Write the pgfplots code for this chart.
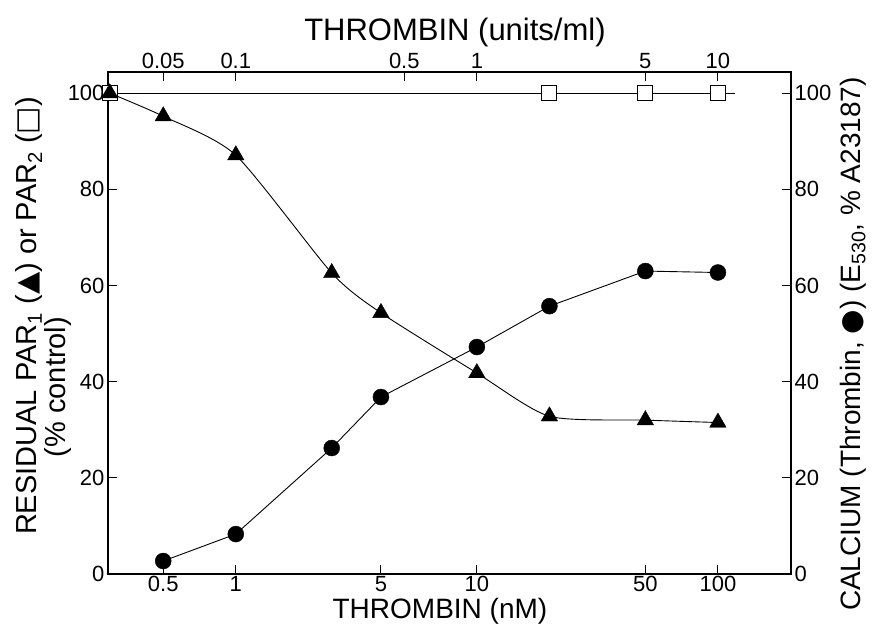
\documentclass[border=0pt]{standalone}
\usepackage{pgfplots}
\pgfplotsset{compat=1.18}
\usepackage{fontspec}
\setmainfont{Liberation Sans}
\newfontfamily\symfont{DejaVu Sans}

\begin{document}
\begin{tikzpicture}
\path[use as bounding box] (-108pt,-60pt) rectangle (766pt,574pt);
\begin{axis}[
  at={(0pt,0pt)}, anchor=south west,
  scale only axis, width=683pt, height=502pt,
  xmode=log, xmin=0.295, xmax=201, ymin=0, ymax=104.4,
  clip=false,
  xtick={0.5,1,4,10,50,100}, xticklabels={0.5,1,5,10,50,100},
  minor xtick={},
  ytick={0,20,40,60,80,100}, yticklabels={0,20,40,60,80,100},
  xtick pos=bottom, ytick pos=left,
  tick align=inside, major tick length=9pt,
  every tick/.style={black, line width=1pt},
  axis line style={line width=1.1pt},
  ticklabel style={font=\fontsize{22}{24}\selectfont},
  xticklabel style={yshift=1pt},
  /pgf/number format/assume math mode=true,
  xlabel={THROMBIN (nM)},
  xlabel style={at={(axis description cs:0.486,-0.0735)}, anchor=center, font=\fontsize{28}{32}\selectfont},
  ylabel={RESIDUAL PAR\textsubscript{1} ({\symfont ▲}) or PAR\textsubscript{2} ({\symfont □})},
  ylabel style={at={(axis description cs:-0.1157,0.514)}, anchor=center, font=\fontsize{29}{32}\selectfont},
]
\addplot[black, line width=0.9pt, smooth, tension=0.4, mark=none] coordinates {
(0.3,100) (0.5,95.2) (1,87.1) (2.5,62.6) (4,54.3) (10,41.8) (20,32.8) (50,32) (100,31.5)};
\addplot[black, line width=0.9pt, mark=none] coordinates {
(0.5,2.7) (1,8.3) (2.5,26.2) (4,36.8) (10,47.2) (20,55.7) (50,63) (100,62.7)};
\addplot[black, line width=0.9pt, mark=none] coordinates {(0.3,100) (118,100)};
\addplot[only marks, mark=square*, mark size=7.5pt, draw=black, fill=white, mark options={line width=0.9pt}] coordinates {
(0.3,100) (20,100) (50,100) (100,100)};
\addplot[only marks, mark=triangle*, mark size=9.5pt, black] coordinates {
(0.3,100) (0.5,95.2) (1,87.1) (2.5,62.6) (4,54.3) (10,41.8) (20,32.8) (50,32) (100,31.5)};
\addplot[only marks, mark=*, mark size=8pt, black] coordinates {
(0.5,2.7) (1,8.3) (2.5,26.2) (4,36.8) (10,47.2) (20,55.7) (50,63) (100,62.7)};
\node[rotate=90, anchor=center, font=\fontsize{29}{32}\selectfont] at (axis description cs:-0.0732,0.3725) {(\% control)};
\end{axis}
\begin{axis}[
  at={(0pt,0pt)}, anchor=south west,
  scale only axis, width=683pt, height=502pt,
  xmode=log, xmin=0.295, xmax=201, ymin=0, ymax=104.4,
  axis x line*=top, axis y line*=right,
  axis line style={-, line width=1.1pt},
  xtick={0.5,1,5,10,50,100}, xticklabels={0.05,0.1,0.5,1,5,10},
  minor xtick={},
  ytick={0,20,40,60,80,100}, yticklabels={0,20,40,60,80,100},
  tick align=inside, major tick length=9pt,
  every tick/.style={black, line width=1pt},
  ticklabel style={font=\fontsize{22}{24}\selectfont},
  /pgf/number format/assume math mode=true,
  xlabel={THROMBIN (units/ml)},
  xlabel style={at={(axis description cs:0.508,1.0797)}, anchor=center, font=\fontsize{31}{32}\selectfont},
  ylabel={CALCIUM (Thrombin, {\symfont ●}) (E\textsubscript{530}, \% A23187)},
  ylabel style={at={(axis description cs:1.0908,0.458)}, anchor=center, font=\fontsize{28}{32}\selectfont},
]
\end{axis}
\end{tikzpicture}
\end{document}
